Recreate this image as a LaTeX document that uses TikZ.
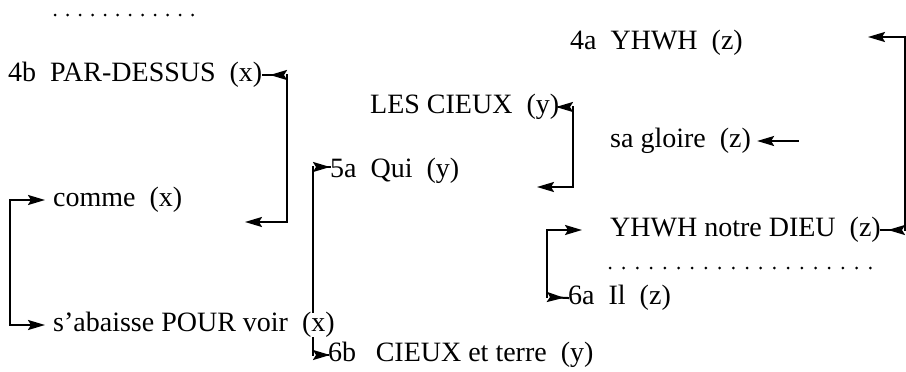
\documentclass[tikz,border=0pt]{standalone}
\usepackage{fontspec}
\setmainfont{Liberation Serif}
\usetikzlibrary{arrows.meta}
\newcommand{\wsp}{\hspace{0.5em}}
\tikzset{
  bighead/.tip={Stealth[length=17pt,width=10pt,inset=3pt]},
}
\begin{document}
\begin{tikzpicture}[x=1pt,y=-1pt,
  txt/.style={font=\fontsize{28}{30}\selectfont, inner sep=0pt,
    text height=19pt, text depth=6pt, anchor=west},
  link/.style={line width=2pt, line cap=rect},
  tipfwd/.style={link, arrows={-bighead}},
  tipback/.style={link, arrows={-bighead[reversed]}},
  tipboth/.style={link, arrows={bighead-bighead}},
]
\useasboundingbox (0,0) rectangle (906,372);

% dotted rules
\foreach \i in {0,...,11} \fill (55+12.5*\i,15) circle (1.5pt);
\foreach \i in {0,...,19} \fill (610+13.7*\i,268) circle (1.5pt);

% text lines
\node[txt] (y4a)     at (570,43)  {4a\wsp YHWH\wsp (z)};
\node[txt] (p4b)     at (8,75)    {4b\wsp PAR-DESSUS\wsp (x)};
\node[txt] (cieux)   at (370,107) {LES CIEUX\wsp (y)};
\node[txt] (gloire)  at (610,141) {sa gloire\wsp (z)};
\node[txt] (qui)     at (330,171) {5a\wsp Qui\wsp (y)};
\node[txt] (comme)   at (53,200)  {comme\wsp (x)};
\node[txt] (dieu)    at (610,230) {YHWH notre DIEU\wsp (z)};
\node[txt] (il)      at (568,298) {6a\wsp Il\wsp (z)};
\node[txt] (abaisse) at (53,325)  {s'abaisse POUR voir\wsp (x)};
\node[txt] (terre)   at (328,355) {6b\hspace{0.7em}CIEUX et terre\wsp (y)};

% corners and free ends
\coordinate (c4b) at (287,75);
\coordinate (e4b) at (245,222);
\coordinate (cq)  at (313,167);
\coordinate (ct)  at (313,355);
\coordinate (cc)  at (573,107);
\coordinate (ec)  at (537,187);
\coordinate (sg)  at (798,141);
\coordinate (ty)  at (868,37);
\coordinate (cy)  at (905,37);
\coordinate (cd)  at (905,230);
\coordinate (ci)  at (547,297);

% 4b -> comme
\draw[tipback] (p4b.east) -- (c4b);
\draw[tipfwd] (c4b) |- (e4b);

% comme <-> s'abaisse
\draw[tipboth] ([xshift=-8pt]comme.west) -- ++(-35,0) |- ([xshift=-8pt]abaisse.west);

% 5a <-> 6b
\draw[tipback] (cq -| qui.west) -- (cq);
\draw[link] (cq) -- (abaisse.north -| cq);
\draw[link] (abaisse.south -| cq) -- (ct);
\draw[tipback] (terre.west) -- (ct);

% les cieux
\draw[tipback] (cieux.east) -- (cc);
\draw[tipfwd] (cc) |- (ec);

% sa gloire
\draw[tipfwd] (sg) -- ([xshift=6pt]gloire.east);

% 4a <-> YHWH notre DIEU
\draw[tipfwd] (cd) -- (cy) -- (ty);
\draw[tipback] (dieu.east) -- (cd);

% YHWH notre DIEU <-> 6a
\draw[tipfwd] (ci) |- ([xshift=-28pt]dieu.west);
\draw[tipback] (il.west) -- (ci);
\end{tikzpicture}
\end{document}
